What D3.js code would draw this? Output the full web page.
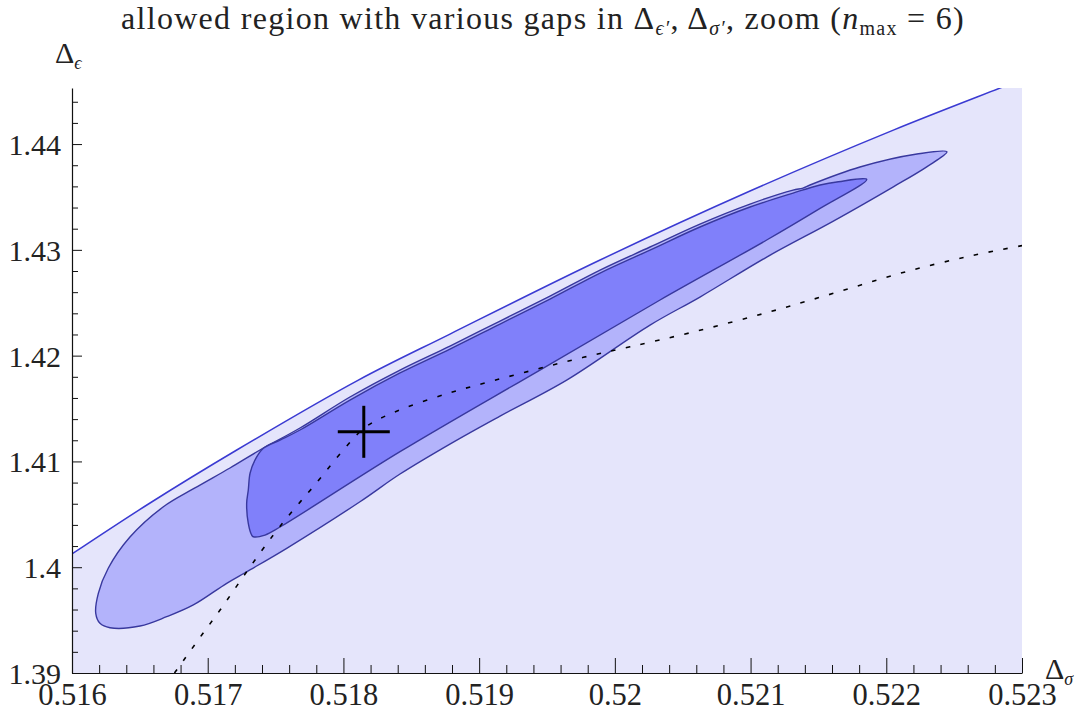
<!DOCTYPE html>
<html>
<head>
<meta charset="utf-8">
<script src="https://cdn.jsdelivr.net/npm/d3@7"></script>
<style>
  html, body { margin: 0; padding: 0; background: #fff; }
  svg text { font-family: "Liberation Serif", "DejaVu Serif", serif; fill: #222; }
</style>
</head>
<body>
<svg id="chart" width="1087" height="713"></svg>
<script>
// ---------- data (Δσ, Δε) ----------
const xDomain = [0.516, 0.523];
const yDomain = [1.39, 1.4453];

const xMajorTicks = [0.516, 0.517, 0.518, 0.519, 0.520, 0.521, 0.522, 0.523];
const xTickLabels = ["0.516", "0.517", "0.518", "0.519", "0.52", "0.521", "0.522", "0.523"];
const yMajorTicks = [1.39, 1.40, 1.41, 1.42, 1.43, 1.44];
const yTickLabels = ["1.39", "1.4", "1.41", "1.42", "1.43", "1.44"];

// upper boundary of the lightest allowed region
const outerBoundary = [
  [0.516000, 1.40125], [0.516575, 1.40607], [0.517214, 1.41108], [0.518110, 1.41769],
  [0.518785, 1.42204], [0.519891, 1.42904], [0.520996, 1.43556], [0.522052, 1.44132],
  [0.522833, 1.44527], [0.523000, 1.44611]
];

// middle (medium blue) island
const middleRegion = [
  [0.516175, 1.39564], [0.516194, 1.39753], [0.516267, 1.39990], [0.516427, 1.40285],
  [0.516671, 1.40569], [0.516906, 1.40749], [0.517164, 1.40938], [0.517385, 1.41108],
  [0.517680, 1.41316], [0.518048, 1.41609], [0.518417, 1.41864], [0.518785, 1.42091],
  [0.519154, 1.42327], [0.519522, 1.42563], [0.519891, 1.42809], [0.520259, 1.43027],
  [0.520627, 1.43244], [0.520996, 1.43433], [0.521313, 1.43565], [0.521386, 1.43584],
  [0.521438, 1.43613], [0.521806, 1.43783], [0.522226, 1.43906], [0.522447, 1.43927],
  [0.522298, 1.43785], [0.522052, 1.43596], [0.521610, 1.43272], [0.521119, 1.42932],
  [0.520627, 1.42554], [0.520259, 1.42289], [0.519645, 1.41769], [0.519154, 1.41429],
  [0.518810, 1.41183], [0.518417, 1.40881], [0.518122, 1.40619], [0.517582, 1.40179],
  [0.517287, 1.39957], [0.517140, 1.39848], [0.516894, 1.39643], [0.516698, 1.39532],
  [0.516501, 1.39444], [0.516280, 1.39428], [0.516206, 1.39470]
];

// innermost (dark blue) island
const innerRegion = [
  [0.517299, 1.40730], [0.517312, 1.40888], [0.517348, 1.41013], [0.517410, 1.41124],
  [0.517533, 1.41202], [0.517680, 1.41297], [0.518048, 1.41580], [0.518417, 1.41836],
  [0.518785, 1.42062], [0.519154, 1.42299], [0.519522, 1.42535], [0.519891, 1.42781],
  [0.520259, 1.42998], [0.520627, 1.43216], [0.520996, 1.43405], [0.521313, 1.43537],
  [0.521512, 1.43613], [0.521647, 1.43644], [0.521856, 1.43666],
  [0.521512, 1.43392], [0.521119, 1.43093], [0.520333, 1.42526], [0.519448, 1.41864],
  [0.518417, 1.41092], [0.517533, 1.40380], [0.517422, 1.40304], [0.517336, 1.40288],
  [0.517324, 1.40304], [0.517299, 1.40415], [0.517287, 1.40604]
];

// dotted curve
const dottedCurve = [
  [0.516755, 1.39000], [0.516820, 1.39116], [0.516956, 1.39359], [0.517091, 1.39595],
  [0.517287, 1.39957], [0.517483, 1.40304], [0.517631, 1.40541], [0.517778, 1.40761],
  [0.517999, 1.41108], [0.518144, 1.41306], [0.518247, 1.41391], [0.518343, 1.41448],
  [0.518468, 1.41514], [0.518785, 1.41649], [0.519104, 1.41763], [0.519448, 1.41880],
  [0.519768, 1.41984], [0.520112, 1.42084], [0.520566, 1.42220], [0.521119, 1.42406],
  [0.521610, 1.42589], [0.522101, 1.42778], [0.522593, 1.42935], [0.523000, 1.43040]
];

// marked point (cross)
const crossPoint = [0.51815, 1.4128];

// ---------- drawing ----------
const svg = d3.select("#chart");
const margin = { left: 72, right: 65, top: 88, bottom: 40 };
const W = 1087, H = 713;
const x = d3.scaleLinear().domain(xDomain).range([margin.left, W - margin.right]);
const y = d3.scaleLinear().domain(yDomain).range([H - margin.bottom, margin.top]);

svg.append("defs").append("clipPath").attr("id", "plotClip")
  .append("rect")
  .attr("x", x(xDomain[0])).attr("y", y(yDomain[1]))
  .attr("width", x(xDomain[1]) - x(xDomain[0]))
  .attr("height", y(yDomain[0]) - y(yDomain[1]));

const plot = svg.append("g").attr("clip-path", "url(#plotClip)");

const line = d3.line().x(d => x(d[0])).y(d => y(d[1]));
const smoothLine = d3.line().x(d => x(d[0])).y(d => y(d[1])).curve(d3.curveCatmullRom.alpha(0.5));
const closed = d3.line().x(d => x(d[0])).y(d => y(d[1])).curve(d3.curveCatmullRomClosed.alpha(0.5));

// light region
const lightPoly = outerBoundary.concat([[xDomain[1], yDomain[1] + 0.002], [xDomain[1], yDomain[0]], [xDomain[0], yDomain[0]]]);
plot.append("path").attr("d", line(lightPoly) + "Z")
  .attr("fill", "#e5e5fb").attr("stroke", "none");
plot.append("path").attr("d", smoothLine(outerBoundary))
  .attr("fill", "none").attr("stroke", "#3a3ad2").attr("stroke-width", 1.5);

plot.append("path").attr("d", closed(middleRegion))
  .attr("fill", "#b3b3fb").attr("stroke", "#38389e").attr("stroke-width", 1.4)
  .attr("stroke-linejoin", "round");
plot.append("path").attr("d", closed(innerRegion))
  .attr("fill", "#8080fa").attr("stroke", "#38389e").attr("stroke-width", 1.4)
  .attr("stroke-linejoin", "round");

plot.append("path").attr("d", smoothLine(dottedCurve))
  .attr("fill", "none").attr("stroke", "#000").attr("stroke-width", 1.6)
  .attr("stroke-dasharray", "4.5,10.5");

// cross
const cx = x(crossPoint[0]), cy = y(crossPoint[1]);
const arm = 26;
svg.append("line").attr("x1", cx - arm).attr("x2", cx + arm).attr("y1", cy).attr("y2", cy)
  .attr("stroke", "#000").attr("stroke-width", 3);
svg.append("line").attr("x1", cx).attr("x2", cx).attr("y1", cy - arm).attr("y2", cy + arm)
  .attr("stroke", "#000").attr("stroke-width", 3);

// ---------- axes ----------
const xMinor = d3.range(0, 36).map(i => xDomain[0] + i * 0.0002).filter(v => !xMajorTicks.some(m => Math.abs(m - v) < 1e-9));
const yMinor = d3.range(0, 28).map(i => yDomain[0] + i * 0.002).filter(v => v <= yDomain[1] && !yMajorTicks.some(m => Math.abs(m - v) < 1e-9));

const gx = svg.append("g").attr("transform", `translate(0,${y(yDomain[0])})`);
gx.call(d3.axisBottom(x).tickValues(xMajorTicks).tickSize(-15).tickSizeOuter(0)
  .tickPadding(0).tickFormat((d, i) => xTickLabels[i]));
const gxm = svg.append("g").attr("transform", `translate(0,${y(yDomain[0])})`);
gxm.call(d3.axisBottom(x).tickValues(xMinor).tickSize(-8).tickSizeOuter(0).tickFormat(""));
gxm.select(".domain").remove();

const gy = svg.append("g").attr("transform", `translate(${x(xDomain[0])},0)`);
gy.call(d3.axisLeft(y).tickValues(yMajorTicks).tickSize(-10).tickSizeOuter(0)
  .tickPadding(11).tickFormat((d, i) => yTickLabels[i]));
const gym = svg.append("g").attr("transform", `translate(${x(xDomain[0])},0)`);
gym.call(d3.axisLeft(y).tickValues(yMinor).tickSize(-6).tickSizeOuter(0).tickFormat(""));
gym.select(".domain").remove();

svg.selectAll(".domain").attr("stroke", "#111").attr("stroke-width", 1.2);
svg.selectAll(".tick line").attr("stroke", "#111").attr("stroke-width", 1);
gx.selectAll(".tick text").attr("font-size", 30.5).attr("font-family", "Liberation Serif").attr("fill", "#222")
  .attr("y", 32).attr("dy", 0);
gy.selectAll(".tick text").attr("font-size", 30).attr("font-family", "Liberation Serif").attr("fill", "#222").attr("dy", "0.35em");

// axis labels
const yl = svg.append("text").attr("x", 55).attr("y", 63).attr("font-size", 30);
yl.append("tspan").text("Δ");
yl.append("tspan").attr("dy", 6).attr("font-size", 18).attr("font-style", "italic").text("ϵ");

const xl = svg.append("text").attr("x", 1045).attr("y", 679).attr("font-size", 30);
xl.append("tspan").text("Δ");
xl.append("tspan").attr("dy", 6).attr("font-size", 18).attr("font-style", "italic").text("σ");

// title
const t = svg.append("text").attr("x", 543).attr("y", 29).attr("text-anchor", "middle").attr("font-size", 32)
  .attr("letter-spacing", 1.3);
t.append("tspan").text("allowed region with various gaps in Δ");
t.append("tspan").attr("dy", 6).attr("font-size", 20).attr("font-style", "italic").text("ϵ′");
t.append("tspan").attr("dy", -6).text(", Δ");
t.append("tspan").attr("dy", 6).attr("font-size", 20).attr("font-style", "italic").text("σ′");
t.append("tspan").attr("dy", -6).text(", zoom (");
t.append("tspan").attr("font-style", "italic").text("n");
t.append("tspan").attr("dy", 6).attr("font-size", 20).text("max");
t.append("tspan").attr("dy", -6).text(" = 6)");
</script>
</body>
</html>
